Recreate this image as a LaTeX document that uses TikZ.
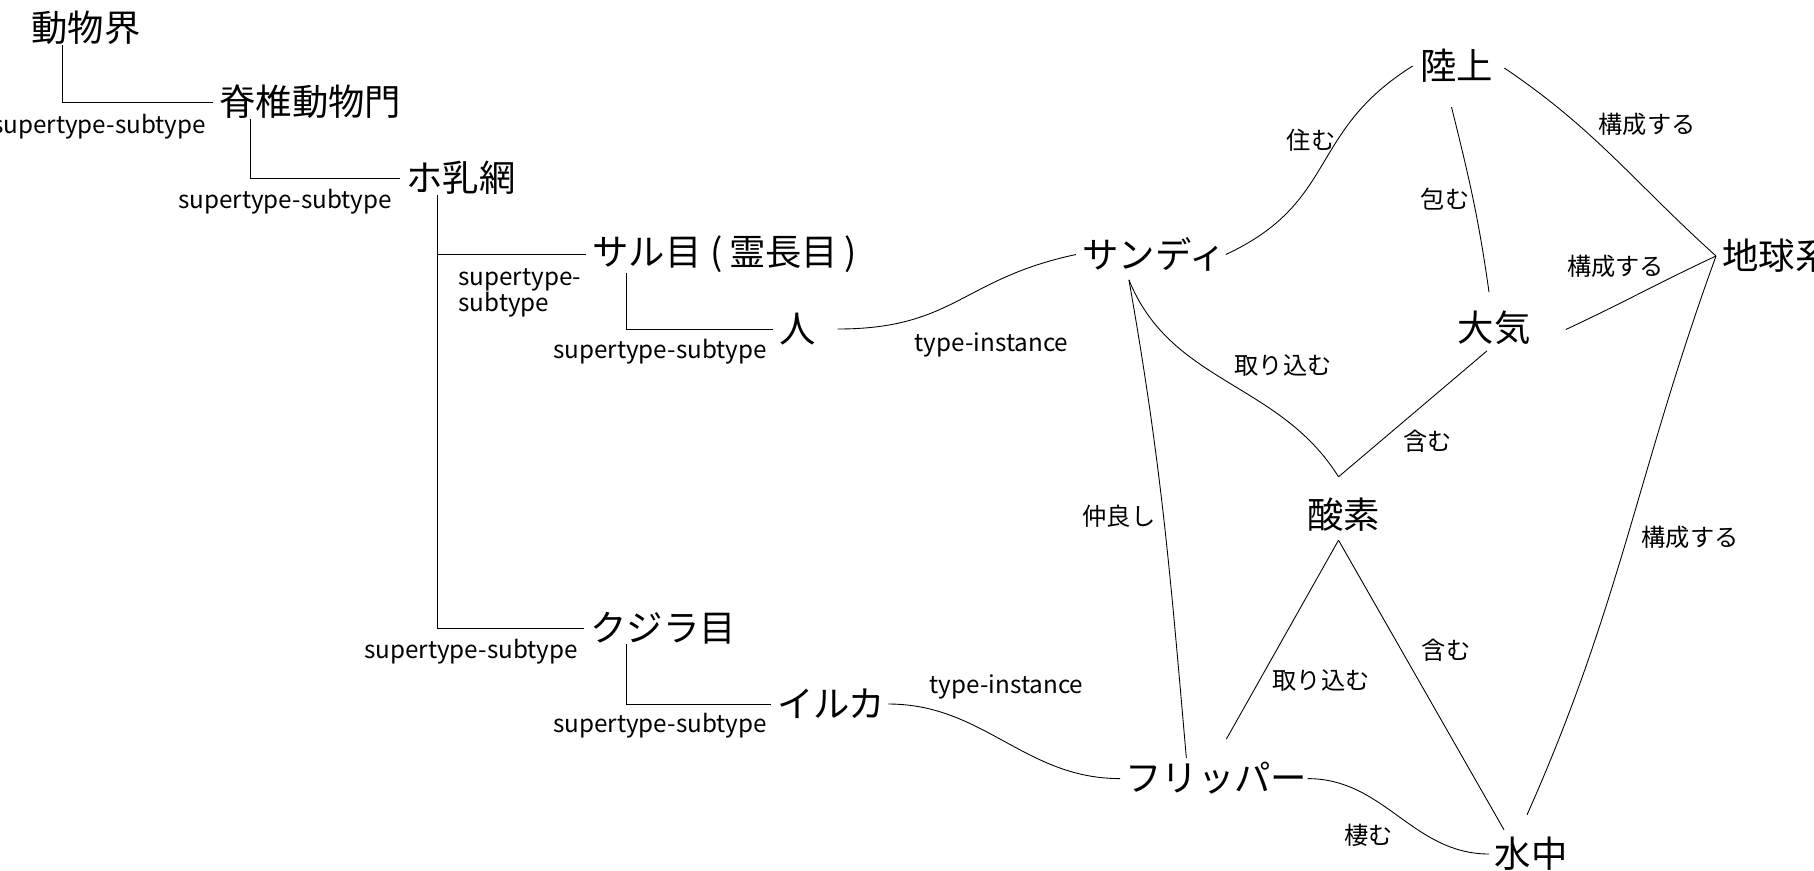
\documentclass[tikz,border=0pt]{standalone}
\usepackage{fontspec}
\setmainfont{Noto Sans CJK JP}
\usetikzlibrary{calc}

\begin{document}
\begin{tikzpicture}[x=0.02cm,y=-0.02cm,line width=0.5pt,
  concept/.style={inner sep=0pt,font=\fontsize{20.7}{24}\selectfont},
  rel/.style={inner sep=0pt,font=\fontsize{13.8}{14.8}\selectfont},
  isa/.style={shorten >=0.12cm}]
\useasboundingbox (0,0) rectangle (1814,870);
% taxonomy
\node[concept,anchor=west] (kai) at (31,28) {動物界};
\node[concept,anchor=west] (mon) at (219,102) {脊椎動物門};
\node[concept,anchor=west] (kou) at (406,178) {ホ乳網};
\node[concept,anchor=west] (saru) at (592,254) {サル目\kern.25em(\kern.17em霊長目\kern.17em)};
\node[concept] (hito) at (798,329) {人};
\node[concept,anchor=west] (kujira) at (590,628) {クジラ目};
\node[concept] (iruka) at (831,704) {イルカ};
% instances and things
\node[concept,anchor=west] (sandy) at (1082,254.5) {サンディ};
\node[concept] (rikujo) at (1456.5,66) {陸上};
\node[concept,anchor=west] (chikyu) at (1722,256) {地球系};
\node[concept] (taiki) at (1494,327.5) {大気};
\node[concept] (sanso) at (1343.5,515) {酸素};
\node[concept,anchor=west] (flipper) at (1125,778.6) {フリッパー};
\node[concept] (suichu) at (1531,854) {水中};

\draw[isa] ($(kai.south west)+(31,0)$) |- (mon.west);
\draw[isa] ($(mon.south west)+(31,0)$) |- (kou.west);
\draw[isa] ($(kou.south west)+(31,0)$) |- (saru.west);
\draw[isa] ($(kou.south west)+(31,0)$) |- (kujira.west);
\draw[isa] ($(saru.south west)+(34,0)$) |- (hito.west);
\draw[isa] ($(kujira.south west)+(36,0)$) |- (iruka.west);

\draw ($(hito.east)+(21,0)$) to[out=0,in=192,looseness=1.2] ($(sandy.west)+(-6,0)$);
\draw ($(iruka.east)+(3,0)$) to[out=0,in=180] ($(flipper.west)+(-5,0)$);
\draw (sandy.east) to[out=25,in=212,looseness=1.2] ($(rikujo.west)+(-7,0)$);
\draw ($(rikujo.south)+(-5,24)$) to[out=-76,in=98] ($(taiki.north)+(-5,-18)$);
\draw ($(rikujo.east)+(11,2)$) to[out=-34,in=138] ($(chikyu.west)+(-6,0)$);
\draw ($(taiki.east)+(35,2)$) to[out=25,in=205] ($(chikyu.west)+(-6,0)$);
\draw ($(suichu.north)+(-4,-22)$) to[out=66,in=250] ($(chikyu.west)+(-6,0)$);
\draw ($(sandy.south)+(-25,8)$) to[out=-80,in=95] ($(flipper.north)+(-30,-4)$);
\draw ($(sandy.south)+(-25,8)$) to[out=-68,in=122] ($(sanso.north)+(-5,-21)$);
\draw ($(taiki.south)+(-7,6)$) -- ($(sanso.north)+(-5,-21)$);
\draw ($(sanso.south)+(-5,8)$) -- ($(flipper.north)+(10,-23)$);
\draw ($(sanso.south)+(-5,8)$) -- ($(suichu.north)+(-27,-7)$);
\draw (flipper.east) to[out=0,in=180] ($(suichu.west)+(-5,0)$);

% labels
\node[rel] (st1) at (99,127) {supertype-subtype};
\node[rel] (st2) at (285,202) {supertype-subtype};
\node[rel,anchor=west,align=left] (st3) at (458,293) {supertype-\\subtype};
\node[rel] (st4) at (660,352) {supertype-subtype};
\node[rel] (st5) at (471,652) {supertype-subtype};
\node[rel] (st6) at (660,726) {supertype-subtype};
\node[rel] (ti1) at (991.5,345) {type-instance};
\node[rel] (ti2) at (1006.5,687) {type-instance};
\node[rel] (sumu) at (1311,140) {住む};
\node[rel] (tsutsumu) at (1445,199) {包む};
\node[rel] (kosei1) at (1647,124) {構成する};
\node[rel] (kosei2) at (1615.5,266) {構成する};
\node[rel] (torikomu1) at (1283,365.5) {取り込む};
\node[rel] (fukumu1) at (1427.5,441) {含む};
\node[rel] (nakayoshi) at (1119,516) {仲良し};
\node[rel] (kosei3) at (1690,537) {構成する};
\node[rel] (torikomu2) at (1321,681) {取り込む};
\node[rel] (fukumu2) at (1446,650) {含む};
\node[rel] (seimu) at (1368.5,835) {棲む};
\end{tikzpicture}
\end{document}
